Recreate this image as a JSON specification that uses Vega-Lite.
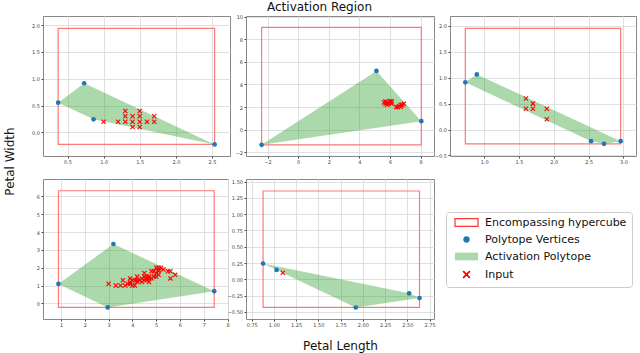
{
  "$schema": "https://vega.github.io/schema/vega-lite/v6.json",
  "padding": {"left": 2, "top": 1, "right": 2, "bottom": 2},
  "title": {"text": "Activation Region", "font": "DejaVu Sans", "fontSize": 12, "fontWeight": "normal", "color": "#111", "anchor": "middle", "offset": 0},
  "datasets": {
    "hyper": [
      {"panel": 1, "x": 0.37, "x2": 2.537, "y": 1.94, "y2": -0.224},
      {"panel": 2, "x": -2.39, "x2": 8.04, "y": 9.04, "y2": -1.34},
      {"panel": 3, "x": 0.73, "x2": 2.96, "y": 1.95, "y2": -0.276},
      {"panel": 4, "x": 0.89, "x2": 7.44, "y": 6.32, "y2": -0.23},
      {"panel": 5, "x": 0.878, "x2": 2.637, "y": 1.356, "y2": -0.433}
    ],
    "verts": [
      {"panel": 1, "ord": 1, "x": 0.37, "y": 0.554},
      {"panel": 1, "ord": 2, "x": 0.73, "y": 0.916},
      {"panel": 1, "ord": 3, "x": 2.537, "y": -0.224},
      {"panel": 1, "ord": 4, "x": 0.86, "y": 0.243},
      {"panel": 2, "ord": 1, "x": -2.39, "y": -1.34},
      {"panel": 2, "ord": 2, "x": 5.11, "y": 5.19},
      {"panel": 2, "ord": 3, "x": 8.04, "y": 0.75},
      {"panel": 3, "ord": 1, "x": 0.73, "y": 0.91},
      {"panel": 3, "ord": 2, "x": 0.895, "y": 1.064},
      {"panel": 3, "ord": 3, "x": 2.96, "y": -0.224},
      {"panel": 3, "ord": 4, "x": 2.72, "y": -0.276},
      {"panel": 3, "ord": 5, "x": 2.535, "y": -0.224},
      {"panel": 4, "ord": 1, "x": 0.89, "y": 1.09},
      {"panel": 4, "ord": 2, "x": 3.2, "y": 3.33},
      {"panel": 4, "ord": 3, "x": 7.44, "y": 0.68},
      {"panel": 4, "ord": 4, "x": 2.96, "y": -0.23},
      {"panel": 5, "ord": 1, "x": 0.878, "y": 0.242},
      {"panel": 5, "ord": 2, "x": 2.52, "y": -0.216},
      {"panel": 5, "ord": 3, "x": 2.637, "y": -0.289},
      {"panel": 5, "ord": 4, "x": 1.92, "y": -0.433},
      {"panel": 5, "ord": 5, "x": 1.03, "y": 0.144}
    ],
    "inputs": [
      {"panel": 1, "x": 1.0, "y": 0.2}, {"panel": 1, "x": 1.2, "y": 0.2},
      {"panel": 1, "x": 1.3, "y": 0.4}, {"panel": 1, "x": 1.3, "y": 0.3}, {"panel": 1, "x": 1.3, "y": 0.2},
      {"panel": 1, "x": 1.4, "y": 0.3}, {"panel": 1, "x": 1.4, "y": 0.2}, {"panel": 1, "x": 1.4, "y": 0.1},
      {"panel": 1, "x": 1.5, "y": 0.4}, {"panel": 1, "x": 1.5, "y": 0.3}, {"panel": 1, "x": 1.5, "y": 0.2}, {"panel": 1, "x": 1.5, "y": 0.1},
      {"panel": 1, "x": 1.6, "y": 0.2}, {"panel": 1, "x": 1.7, "y": 0.3}, {"panel": 1, "x": 1.7, "y": 0.2},
      {"panel": 2, "x": 5.6, "y": 2.4}, {"panel": 2, "x": 5.7, "y": 2.5}, {"panel": 2, "x": 5.7, "y": 2.3},
      {"panel": 2, "x": 5.8, "y": 2.2}, {"panel": 2, "x": 5.8, "y": 2.4}, {"panel": 2, "x": 5.9, "y": 2.3},
      {"panel": 2, "x": 6.0, "y": 2.5}, {"panel": 2, "x": 6.1, "y": 2.5}, {"panel": 2, "x": 6.1, "y": 2.3},
      {"panel": 2, "x": 6.4, "y": 2.0}, {"panel": 2, "x": 6.5, "y": 2.0}, {"panel": 2, "x": 6.6, "y": 2.1},
      {"panel": 2, "x": 6.7, "y": 2.0}, {"panel": 2, "x": 6.7, "y": 2.2}, {"panel": 2, "x": 6.8, "y": 2.2},
      {"panel": 2, "x": 6.9, "y": 2.3},
      {"panel": 3, "x": 1.6, "y": 0.6}, {"panel": 3, "x": 1.7, "y": 0.5}, {"panel": 3, "x": 1.6, "y": 0.4},
      {"panel": 3, "x": 1.7, "y": 0.4}, {"panel": 3, "x": 1.9, "y": 0.4}, {"panel": 3, "x": 1.9, "y": 0.2},
      {"panel": 4, "x": 3.0, "y": 1.1}, {"panel": 4, "x": 3.3, "y": 1.0}, {"panel": 4, "x": 3.5, "y": 1.0},
      {"panel": 4, "x": 3.6, "y": 1.3}, {"panel": 4, "x": 3.7, "y": 1.0}, {"panel": 4, "x": 3.8, "y": 1.1},
      {"panel": 4, "x": 3.9, "y": 1.1}, {"panel": 4, "x": 3.9, "y": 1.2}, {"panel": 4, "x": 3.9, "y": 1.4},
      {"panel": 4, "x": 4.0, "y": 1.0}, {"panel": 4, "x": 4.0, "y": 1.3}, {"panel": 4, "x": 4.1, "y": 1.0},
      {"panel": 4, "x": 4.1, "y": 1.3}, {"panel": 4, "x": 4.2, "y": 1.2}, {"panel": 4, "x": 4.2, "y": 1.3},
      {"panel": 4, "x": 4.2, "y": 1.5}, {"panel": 4, "x": 4.3, "y": 1.3}, {"panel": 4, "x": 4.4, "y": 1.2},
      {"panel": 4, "x": 4.4, "y": 1.4}, {"panel": 4, "x": 4.5, "y": 1.3}, {"panel": 4, "x": 4.5, "y": 1.5},
      {"panel": 4, "x": 4.5, "y": 1.7}, {"panel": 4, "x": 4.6, "y": 1.3}, {"panel": 4, "x": 4.6, "y": 1.4},
      {"panel": 4, "x": 4.6, "y": 1.5}, {"panel": 4, "x": 4.7, "y": 1.2}, {"panel": 4, "x": 4.7, "y": 1.4},
      {"panel": 4, "x": 4.7, "y": 1.5}, {"panel": 4, "x": 4.8, "y": 1.4}, {"panel": 4, "x": 4.8, "y": 1.8},
      {"panel": 4, "x": 4.9, "y": 1.5}, {"panel": 4, "x": 4.9, "y": 1.8}, {"panel": 4, "x": 5.0, "y": 1.5},
      {"panel": 4, "x": 5.0, "y": 1.7}, {"panel": 4, "x": 5.0, "y": 2.0}, {"panel": 4, "x": 5.1, "y": 1.6},
      {"panel": 4, "x": 5.1, "y": 1.8}, {"panel": 4, "x": 5.1, "y": 1.9}, {"panel": 4, "x": 5.1, "y": 2.0},
      {"panel": 4, "x": 5.2, "y": 2.0}, {"panel": 4, "x": 5.3, "y": 1.9}, {"panel": 4, "x": 5.5, "y": 1.8},
      {"panel": 4, "x": 5.6, "y": 1.8}, {"panel": 4, "x": 5.6, "y": 1.4}, {"panel": 4, "x": 5.8, "y": 1.6},
      {"panel": 5, "x": 1.1, "y": 0.1}
    ]
  },
  "columns": 3,
  "spacing": {"row": 23, "column": 16},
  "bounds": "flush",
  "concat": [
    {
      "width": 187, "height": 140,
      "layer": [
        {"data": {"name": "hyper"}, "transform": [{"filter": "datum.panel == 1"}],
         "mark": {"type": "rect", "filled": false, "stroke": "#f77", "strokeWidth": 1.2},
         "encoding": {
           "x": {"field": "x", "type": "quantitative", "scale": {"domain": [0.16, 2.75], "nice": false, "zero": false}, "axis": {"values": [0.5, 1, 1.5, 2, 2.5], "tickCount": 30, "format": ".1f", "title": null, "labelOverlap": false}},
           "x2": {"field": "x2"},
           "y": {"field": "y", "type": "quantitative", "scale": {"domain": [-0.44, 2.17], "nice": false, "zero": false}, "axis": {"values": [0, 0.5, 1, 1.5, 2], "tickCount": 30, "format": ".1f", "labelOverlap": false, "title": "Petal Width", "titleX": -27, "titleY": 145, "titleAngle": -90, "titleBaseline": "bottom", "titleAlign": "center"}},
           "y2": {"field": "y2"}}},
        {"data": {"name": "verts"}, "transform": [{"filter": "datum.panel == 1"}],
         "mark": {"type": "line", "fill": "#2ca02c", "fillOpacity": 0.4, "stroke": "transparent", "strokeWidth": 0},
         "encoding": {"x": {"field": "x", "type": "quantitative"}, "y": {"field": "y", "type": "quantitative"}, "order": {"field": "ord", "type": "quantitative"}}},
        {"data": {"name": "verts"}, "transform": [{"filter": "datum.panel == 1"}],
         "mark": {"type": "point", "filled": true, "size": 22, "opacity": 1, "color": "#1f77b4"},
         "encoding": {"x": {"field": "x", "type": "quantitative"}, "y": {"field": "y", "type": "quantitative"}}},
        {"data": {"name": "inputs"}, "transform": [{"filter": "datum.panel == 1"}],
         "mark": {"type": "point", "shape": "M-1,-1L1,1M-1,1L1,-1", "filled": false, "stroke": "#f00", "size": 18, "strokeWidth": 1.1, "opacity": 1},
         "encoding": {"x": {"field": "x", "type": "quantitative"}, "y": {"field": "y", "type": "quantitative"}}}
      ]
    },
    {
      "width": 188, "height": 140,
      "layer": [
        {"data": {"name": "hyper"}, "transform": [{"filter": "datum.panel == 2"}],
         "mark": {"type": "rect", "filled": false, "stroke": "#f77", "strokeWidth": 1.2},
         "encoding": {
           "x": {"field": "x", "type": "quantitative", "scale": {"domain": [-3.41, 8.87], "nice": false, "zero": false}, "axis": {"values": [-2, 0, 2, 4, 6, 8], "tickCount": 30, "format": "d", "title": null, "labelOverlap": false}},
           "x2": {"field": "x2"},
           "y": {"field": "y", "type": "quantitative", "scale": {"domain": [-2.33, 10.05], "nice": false, "zero": false}, "axis": {"values": [-2, 0, 2, 4, 6, 8, 10], "tickCount": 30, "format": "d", "title": null, "labelOverlap": false}},
           "y2": {"field": "y2"}}},
        {"data": {"name": "verts"}, "transform": [{"filter": "datum.panel == 2"}],
         "mark": {"type": "line", "fill": "#2ca02c", "fillOpacity": 0.4, "stroke": "transparent", "strokeWidth": 0},
         "encoding": {"x": {"field": "x", "type": "quantitative"}, "y": {"field": "y", "type": "quantitative"}, "order": {"field": "ord", "type": "quantitative"}}},
        {"data": {"name": "verts"}, "transform": [{"filter": "datum.panel == 2"}],
         "mark": {"type": "point", "filled": true, "size": 22, "opacity": 1, "color": "#1f77b4"},
         "encoding": {"x": {"field": "x", "type": "quantitative"}, "y": {"field": "y", "type": "quantitative"}}},
        {"data": {"name": "inputs"}, "transform": [{"filter": "datum.panel == 2"}],
         "mark": {"type": "point", "shape": "M-1,-1L1,1M-1,1L1,-1", "filled": false, "stroke": "#f00", "size": 18, "strokeWidth": 1.1, "opacity": 1},
         "encoding": {"x": {"field": "x", "type": "quantitative"}, "y": {"field": "y", "type": "quantitative"}}}
      ]
    },
    {
      "width": 186, "height": 140,
      "layer": [
        {"data": {"name": "hyper"}, "transform": [{"filter": "datum.panel == 3"}],
         "mark": {"type": "rect", "filled": false, "stroke": "#f77", "strokeWidth": 1.2},
         "encoding": {
           "x": {"field": "x", "type": "quantitative", "scale": {"domain": [0.51, 3.18], "nice": false, "zero": false}, "axis": {"values": [1, 1.5, 2, 2.5, 3], "tickCount": 30, "format": ".1f", "title": null, "labelOverlap": false}},
           "x2": {"field": "x2"},
           "y": {"field": "y", "type": "quantitative", "scale": {"domain": [-0.51, 2.19], "nice": false, "zero": false}, "axis": {"values": [-0.5, 0, 0.5, 1, 1.5, 2], "tickCount": 30, "format": ".1f", "title": null, "labelOverlap": false}},
           "y2": {"field": "y2"}}},
        {"data": {"name": "verts"}, "transform": [{"filter": "datum.panel == 3"}],
         "mark": {"type": "line", "fill": "#2ca02c", "fillOpacity": 0.4, "stroke": "transparent", "strokeWidth": 0},
         "encoding": {"x": {"field": "x", "type": "quantitative"}, "y": {"field": "y", "type": "quantitative"}, "order": {"field": "ord", "type": "quantitative"}}},
        {"data": {"name": "verts"}, "transform": [{"filter": "datum.panel == 3"}],
         "mark": {"type": "point", "filled": true, "size": 22, "opacity": 1, "color": "#1f77b4"},
         "encoding": {"x": {"field": "x", "type": "quantitative"}, "y": {"field": "y", "type": "quantitative"}}},
        {"data": {"name": "inputs"}, "transform": [{"filter": "datum.panel == 3"}],
         "mark": {"type": "point", "shape": "M-1,-1L1,1M-1,1L1,-1", "filled": false, "stroke": "#f00", "size": 18, "strokeWidth": 1.1, "opacity": 1},
         "encoding": {"x": {"field": "x", "type": "quantitative"}, "y": {"field": "y", "type": "quantitative"}}}
      ]
    },
    {
      "width": 185, "height": 140,
      "layer": [
        {"data": {"name": "hyper"}, "transform": [{"filter": "datum.panel == 4"}],
         "mark": {"type": "rect", "filled": false, "stroke": "#f77", "strokeWidth": 1.2},
         "encoding": {
           "x": {"field": "x", "type": "quantitative", "scale": {"domain": [0.24, 8.02], "nice": false, "zero": false}, "axis": {"values": [1, 2, 3, 4, 5, 6, 7, 8], "tickCount": 30, "format": "d", "title": null, "labelOverlap": false}},
           "x2": {"field": "x2"},
           "y": {"field": "y", "type": "quantitative", "scale": {"domain": [-0.88, 6.98], "nice": false, "zero": false}, "axis": {"values": [0, 1, 2, 3, 4, 5, 6], "tickCount": 30, "format": "d", "title": null, "labelOverlap": false}},
           "y2": {"field": "y2"}}},
        {"data": {"name": "verts"}, "transform": [{"filter": "datum.panel == 4"}],
         "mark": {"type": "line", "fill": "#2ca02c", "fillOpacity": 0.4, "stroke": "transparent", "strokeWidth": 0},
         "encoding": {"x": {"field": "x", "type": "quantitative"}, "y": {"field": "y", "type": "quantitative"}, "order": {"field": "ord", "type": "quantitative"}}},
        {"data": {"name": "verts"}, "transform": [{"filter": "datum.panel == 4"}],
         "mark": {"type": "point", "filled": true, "size": 22, "opacity": 1, "color": "#1f77b4"},
         "encoding": {"x": {"field": "x", "type": "quantitative"}, "y": {"field": "y", "type": "quantitative"}}},
        {"data": {"name": "inputs"}, "transform": [{"filter": "datum.panel == 4"}],
         "mark": {"type": "point", "shape": "M-1,-1L1,1M-1,1L1,-1", "filled": false, "stroke": "#f00", "size": 18, "strokeWidth": 1.1, "opacity": 1},
         "encoding": {"x": {"field": "x", "type": "quantitative"}, "y": {"field": "y", "type": "quantitative"}}}
      ]
    },
    {
      "width": 188, "height": 140,
      "layer": [
        {"data": {"name": "hyper"}, "transform": [{"filter": "datum.panel == 5"}],
         "mark": {"type": "rect", "filled": false, "stroke": "#f77", "strokeWidth": 1.2},
         "encoding": {
           "x": {"field": "x", "type": "quantitative", "scale": {"domain": [0.686, 2.8], "nice": false, "zero": false}, "axis": {"values": [0.75, 1, 1.25, 1.5, 1.75, 2, 2.25, 2.5, 2.75], "tickCount": 30, "format": ".2f", "labelOverlap": false, "title": "Petal Length", "titlePadding": 13}},
           "x2": {"field": "x2"},
           "y": {"field": "y", "type": "quantitative", "scale": {"domain": [-0.61, 1.54], "nice": false, "zero": false}, "axis": {"values": [-0.5, -0.25, 0, 0.25, 0.5, 0.75, 1, 1.25, 1.5], "tickCount": 30, "format": ".2f", "title": null, "labelOverlap": false}},
           "y2": {"field": "y2"}}},
        {"data": {"name": "verts"}, "transform": [{"filter": "datum.panel == 5"}],
         "mark": {"type": "line", "fill": "#2ca02c", "fillOpacity": 0.4, "stroke": "transparent", "strokeWidth": 0},
         "encoding": {"x": {"field": "x", "type": "quantitative"}, "y": {"field": "y", "type": "quantitative"}, "order": {"field": "ord", "type": "quantitative"}}},
        {"data": {"name": "verts"}, "transform": [{"filter": "datum.panel == 5"}],
         "mark": {"type": "point", "filled": true, "size": 22, "opacity": 1},
         "encoding": {"x": {"field": "x", "type": "quantitative"}, "y": {"field": "y", "type": "quantitative"},
           "color": {"datum": "Polytope Vertices", "type": "nominal",
             "scale": {"domain": ["Encompassing hypercube", "Polytope Vertices", "Activation Polytope", "Input"], "range": ["transparent", "#1f77b4", "#2ca02c", "transparent"]},
             "legend": {"title": null, "orient": "none", "legendX": 403, "legendY": 196,
               "labelFont": "DejaVu Sans", "labelFontSize": 11, "labelColor": "#111", "labelLimit": 300,
               "padding": 5, "symbolSize": 100, "symbolOffset": 10, "labelOffset": 13, "rowPadding": 4,
               "strokeColor": "#ccc", "cornerRadius": 3, "fillColor": "#fff",
               "encoding": {"symbols": {
                 "shape": {"value": {"expr": "datum.value === 'Polytope Vertices' ? 'circle' : datum.value === 'Input' ? 'M-1,-1L1,1M-1,1L1,-1' : 'M-2.3,-0.77H2.3V0.77H-2.3Z'"}},
                 "size": {"value": {"expr": "datum.value === 'Polytope Vertices' ? 40 : datum.value === 'Input' ? 45 : 100"}},
                 "fill": {"value": {"expr": "datum.value === 'Polytope Vertices' ? '#1f77b4' : datum.value === 'Activation Polytope' ? '#2ca02c' : 'transparent'"}},
                 "fillOpacity": {"value": {"expr": "datum.value === 'Activation Polytope' ? 0.4 : 1"}},
                 "stroke": {"value": {"expr": "datum.value === 'Encompassing hypercube' ? '#f33' : datum.value === 'Input' ? '#f00' : 'transparent'"}},
                 "strokeWidth": {"value": {"expr": "datum.value === 'Input' ? 1.8 : 1.2"}},
                 "opacity": {"value": 1}
               }}}}}},
        {"data": {"name": "inputs"}, "transform": [{"filter": "datum.panel == 5"}],
         "mark": {"type": "point", "shape": "M-1,-1L1,1M-1,1L1,-1", "filled": false, "stroke": "#f00", "size": 18, "strokeWidth": 1.1, "opacity": 1},
         "encoding": {"x": {"field": "x", "type": "quantitative"}, "y": {"field": "y", "type": "quantitative"}}}
      ]
    }
  ],
  "config": {
    "view": {"stroke": "#888", "strokeWidth": 1},
    "axis": {"labelFont": "DejaVu Sans", "labelFontSize": 5, "labelColor": "#444", "tickColor": "#444", "tickSize": 2, "domain": false, "tickCount": 30,
      "gridColor": "#dcdcdc", "gridWidth": 0.9, "labelPadding": 1.5, "labelFlush": false, "labelOverlap": false, "labelBound": false,
      "titleFont": "DejaVu Sans", "titleFontSize": 12, "titleFontWeight": "normal", "titleColor": "#111"}
  }
}
